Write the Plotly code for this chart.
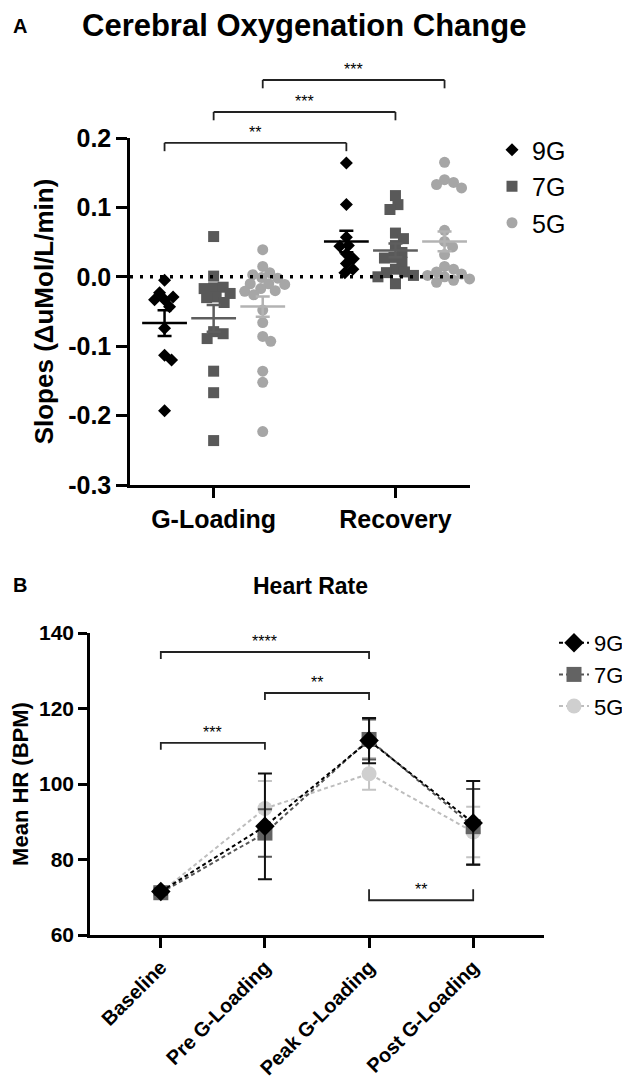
import numpy as np
import plotly.graph_objects as go

# --- Données ---
phases = ["G-Loading", "Recovery"]
groups = ["9G", "7G", "5G"]

gload_9g = [-0.005, -0.033, -0.029, -0.023, -0.033, -0.043, -0.074, -0.113, -0.120, -0.193]
gload_7g = [0.058, 0.001, -0.016, -0.015, -0.017, -0.029, -0.030, -0.024, -0.037,
            -0.079, -0.082, -0.089, -0.136, -0.167, -0.236]
gload_5g = [0.039, 0.015, 0.006, -0.001, 0.003, -0.002, -0.010, -0.010, -0.011, -0.017,
            -0.020, -0.021, -0.026, -0.048, -0.066, -0.086, -0.093, -0.136, -0.152, -0.223]
recov_9g = [0.164, 0.104, 0.057, 0.045, 0.044, 0.033, 0.026, 0.019, 0.011, 0.006]
recov_7g = [0.117, 0.104, 0.097, 0.063, 0.055, 0.045, 0.035, 0.028, 0.027, 0.021,
            0.011, 0.007, 0.006, 0.002, 0.000, -0.010]
recov_5g = [0.165, 0.140, 0.136, 0.133, 0.128, 0.067, 0.051, 0.043, 0.032, 0.015,
            0.011, 0.007, 0.004, 0.002, 0.000, -0.003, -0.005, -0.008]

slope_ticks = [-0.3, -0.2, -0.1, 0.0, 0.1, 0.2]
slope_ticktext = ["-0.3", "-0.2", "-0.1", "0.0", "0.1", "0.2"]

hr_stages = ["Baseline", "Pre G-Loading", "Peak G-Loading", "Post G-Loading"]
hr_9g = [71.5, 88.8, 111.5, 89.7]
hr_9g_err = [0.8, 14.0, 6.0, 11.1]
hr_7g = [71.2, 87.0, 111.8, 88.7]
hr_7g_err = [1.0, 6.3, 5.3, 10.0]
hr_5g = [71.3, 93.5, 102.7, 87.3]
hr_5g_err = [0.8, 7.3, 4.2, 6.7]
hr_ticks = [60, 80, 100, 120, 140]

# comparaisons
slope_sig = [("9G", "**"), ("7G", "***"), ("5G", "***")]
hr_sig = [(0, 2, "****"), (1, 2, "**"), (0, 1, "***"), (2, 3, "**")]

# --- Mise en page ---
W, H = 630, 1083
FONT = "Liberation Sans"
x1_dom = [122 / W, 462 / W]
y1_dom = [1 - 477 / H, 1 - 130 / H]
x2_dom = [82 / W, 536 / W]
y2_dom = [1 - 927 / H, 1 - 625 / H]
x1_range = [0.54, 2.41]
y1_range = [-0.3, 0.2]
x2_range = [-0.68, 3.68]
y2_range = [60, 140]
offsets = {"9G": -0.27, "7G": 0.0, "5G": 0.27}

px_x1 = (x1_dom[1] - x1_dom[0]) * W / (x1_range[1] - x1_range[0])
px_y1 = (y1_dom[1] - y1_dom[0]) * H / (y1_range[1] - y1_range[0])

colors_top = {"9G": "#000000", "7G": "#595959", "5G": "#a6a6a6"}
mean_colors = {"9G": "#000000", "7G": "#5e5e5e", "5G": "#b3b3b3"}
symbols = {"9G": "diamond", "7G": "square", "5G": "circle"}
sizes_top = {"9G": 10, "7G": 11, "5G": 11}


def swarm(values, diam):
    """ Décalages horizontaux type beeswarm (en unités d'axe). """
    steps = sorted(np.arange(-40, 40.5, 0.5), key=lambda s: (abs(s), -s))
    placed, offs = [], []
    for v in values:
        yp = v * px_y1
        for s in steps:
            if all((s - a) ** 2 + (yp - b) ** 2 >= diam ** 2 for a, b in placed):
                break
        placed.append((s, yp))
        offs.append(s / px_x1)
    return offs


def ydom(v):
    return (v - y1_range[0]) / (y1_range[1] - y1_range[0])


top_data = {
    ("G-Loading", "9G"): gload_9g, ("G-Loading", "7G"): gload_7g, ("G-Loading", "5G"): gload_5g,
    ("Recovery", "9G"): recov_9g, ("Recovery", "7G"): recov_7g, ("Recovery", "5G"): recov_5g,
}

fig = go.Figure()

for g in groups:
    for pi, ph in enumerate(phases):
        vals = np.array(top_data[(ph, g)])
        center = pi + 1 + offsets[g]
        jit = swarm(vals, sizes_top[g] * 0.85)
        fig.add_trace(go.Scatter(
            x=center + np.array(jit), y=vals, mode="markers",
            marker=dict(symbol=symbols[g], size=sizes_top[g], color=colors_top[g]),
            name=g, legend="legend", legendgroup=g, showlegend=(pi == 0),
            xaxis="x", yaxis="y", cliponaxis=False,
        ))
        mean = vals.mean()
        sem = vals.std(ddof=1) / np.sqrt(len(vals))
        fig.add_trace(go.Scatter(
            x=[center], y=[mean], mode="markers", showlegend=False,
            marker=dict(symbol="line-ew", size=32, line=dict(width=2.5, color=mean_colors[g])),
            error_y=dict(type="data", array=[sem], width=7, thickness=2.5, color=mean_colors[g]),
            xaxis="x", yaxis="y", cliponaxis=False,
        ))

# ligne pointillée à zéro
fig.add_shape(type="line", xref="x domain", x0=0, x1=1, yref="y", y0=0, y1=0,
              line=dict(color="black", width=3.5, dash="3px,7px"))

# crochets de significativité (panneau A)
for lvl, (g, txt) in zip([0.193, 0.2375, 0.2836], slope_sig):
    xa, xb = 1 + offsets[g], 2 + offsets[g]
    drop = 0.012
    for x0, y0, x1, y1 in [(xa, lvl - drop, xa, lvl), (xa, lvl, xb, lvl), (xb, lvl, xb, lvl - drop)]:
        fig.add_shape(type="line", xref="x", yref="y domain", x0=x0, x1=x1,
                      y0=ydom(y0), y1=ydom(y1), line=dict(color="#222222", width=1.8))
    fig.add_annotation(x=(xa + xb) / 2, y=ydom(lvl), xref="x", yref="y domain", text=txt,
                       showarrow=False, yanchor="bottom", xanchor="center", yshift=0,
                       font=dict(family=FONT, size=16, color="black"))

# --- Panneau B : fréquence cardiaque ---
bottom = [
    ("5G", hr_5g, hr_5g_err, "#cfcfcf", "#bdbdbd", "#c4c4c4", 3),
    ("7G", hr_7g, hr_7g_err, "#636363", "#555555", "#555555", 2),
    ("9G", hr_9g, hr_9g_err, "#000000", "#000000", "#111111", 1),
]
for g, vals, errs, mcol, lcol, ecol, rank in bottom:
    fig.add_trace(go.Scatter(
        x=hr_stages, y=vals, mode="lines+markers", name=g,
        line=dict(color=lcol, width=2, dash="4px,3px"),
        marker=dict(symbol=symbols[g], size=15, color=mcol),
        error_y=dict(type="data", array=errs, width=7, thickness=2, color=ecol),
        legend="legend2", legendrank=rank, xaxis="x2", yaxis="y2", cliponaxis=False,
    ))

for a, b, txt in hr_sig:
    xa, xb = hr_stages[a], hr_stages[b]
    if a == 2 and b == 3:
        lvl, d = 69.2, -2.9
    else:
        lvl, d = {(0, 2): 134.97, (1, 2): 124.1, (0, 1): 110.9}[(a, b)], 1.85
    fig.add_trace(go.Scatter(
        x=[xa, xa, xb, xb], y=[lvl - d, lvl, lvl, lvl - d], mode="lines",
        line=dict(color="#222222", width=1.8), showlegend=False,
        xaxis="x2", yaxis="y2", hoverinfo="skip",
    ))
    fig.add_annotation(x=(a + b) / 2, y=lvl, xref="x2", yref="y2", text=txt,
                       showarrow=False, yanchor="bottom", xanchor="center", yshift=0,
                       font=dict(family=FONT, size=16, color="black"))


def axis_style(size, ticklen):
    return dict(showline=True, linewidth=2.5, linecolor="black", showgrid=False,
                zeroline=False, ticks="outside", ticklen=ticklen, tickwidth=2.5,
                tickcolor="black",
                tickfont=dict(family=FONT, size=size, color="black", weight="bold"))


fig.update_layout(
    width=W, height=H, autosize=False,
    margin=dict(l=0, r=0, t=0, b=0, autoexpand=False),
    paper_bgcolor="white", plot_bgcolor="white",
    font=dict(family=FONT, color="black"),
    xaxis=dict(domain=x1_dom, range=x1_range, anchor="y", tickvals=[1, 2], ticktext=phases,
               **axis_style(25, 10)),
    yaxis=dict(domain=y1_dom, range=y1_range, anchor="x", tickvals=slope_ticks,
               ticktext=slope_ticktext,
               title=dict(text="Slopes (ΔuMol/L/min)", standoff=8,
                          font=dict(family=FONT, size=26, color="black", weight="bold")),
               **axis_style(25, 11)),
    xaxis2=dict(domain=x2_dom, range=x2_range, anchor="y2", type="category",
                tickangle=-45, **axis_style(20, 10)),
    yaxis2=dict(domain=y2_dom, range=y2_range, anchor="x2", tickvals=hr_ticks,
                title=dict(text="Mean HR (BPM)", standoff=10,
                           font=dict(family=FONT, size=22, color="black", weight="bold")),
                **axis_style(21, 9)),
    legend=dict(x=484 / W, y=1 - 119 / H, xanchor="left", yanchor="top",
                font=dict(family=FONT, size=25, color="black"), tracegroupgap=1,
                bgcolor="rgba(0,0,0,0)"),
    legend2=dict(x=546 / W, y=1 - 614 / H, xanchor="left", yanchor="top",
                 font=dict(family=FONT, size=22, color="black"), tracegroupgap=5,
                 bgcolor="rgba(0,0,0,0)"),
)

# titres et lettres de panneaux
title_kw = dict(xref="paper", yref="paper", showarrow=False, xanchor="center", yanchor="middle")
fig.add_annotation(x=296 / W, y=1 - 18 / H, text="<b>Cerebral Oxygenation Change</b>",
                   font=dict(family=FONT, size=31, color="black"), **title_kw)
fig.add_annotation(x=12 / W, y=1 - 18 / H, text="<b>A</b>",
                   font=dict(family=FONT, size=20, color="black"), **title_kw)
fig.add_annotation(x=302 / W, y=1 - 578 / H, text="<b>Heart Rate</b>",
                   font=dict(family=FONT, size=23, color="black"), **title_kw)
fig.add_annotation(x=12 / W, y=1 - 577 / H, text="<b>B</b>",
                   font=dict(family=FONT, size=20, color="black"), **title_kw)

fig.write_html("out.html")
